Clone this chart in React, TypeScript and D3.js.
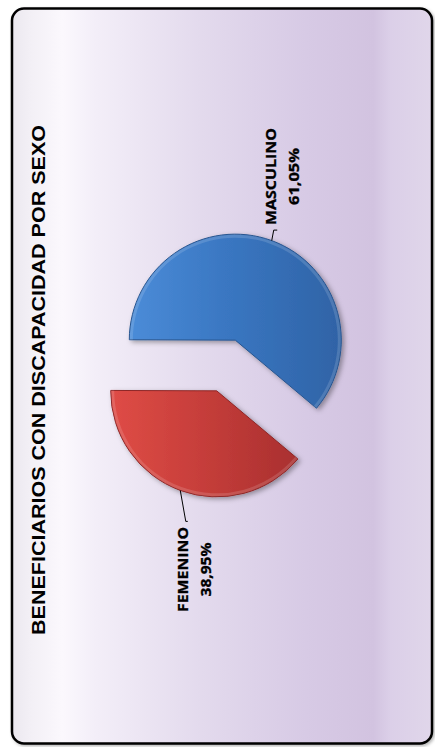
import React from "react";
import * as d3 from "d3";

const categories = ["FEMENINO", "MASCULINO"];
const values = [38.95, 61.05];
const valueLabels = ["38,95%", "61,05%"];
const title = "BENEFICIARIOS CON DISCAPACIDAD POR SEXO";

const sliceColors = [
  { light: "#df4c46", mid: "#c83f3b", dark: "#a92f2f", edge: "#8e2727" },
  { light: "#4b8cd8", mid: "#3a77c2", dark: "#2f63a6", edge: "#28558f" },
];

export default function App() {
  const W = 435;
  const H = 747;
  const deg = Math.PI / 180;
  const cx = 226;
  const cy = 365.5;
  const r = 106;
  const explode = 27;
  const start = 130 * deg;

  const pie = d3
    .pie<number>()
    .sort(null)
    .startAngle(start)
    .endAngle(start + 2 * Math.PI);
  const arcs = pie(values);
  const arc = d3.arc<d3.PieArcDatum<number>>().innerRadius(0).outerRadius(r);
  const rim = d3.arc<d3.PieArcDatum<number>>().innerRadius(r - 3.5).outerRadius(r - 0.5);

  const offsets = arcs.map((a) => {
    const m = (a.startAngle + a.endAngle) / 2;
    return [explode * Math.sin(m), -explode * Math.cos(m)];
  });

  // label layout (screen space, chart is rotated 90° ccw)
  const labelLayout = [
    // FEMENINO
    { elbow: [5.5, 31], end: [7.5, 31], nameX: 187.5, valX: 210.5, y: 569.5, nameLen: 85, valLen: 54 },
    // MASCULINO
    { elbow: [2, -10.5], end: [5.5, -10.5], nameX: 275.5, valX: 298.5, y: 176.5, nameLen: 97, valLen: 57 },
  ];

  const labelStyle = {
    fontFamily: "'Open Sans', Lato, sans-serif",
    fontWeight: 700 as const,
    fontSize: 14.5,
  };

  return (
    <svg
      width={W}
      height={H}
      style={{ position: "absolute", left: 0, top: 0 }}
      xmlns="http://www.w3.org/2000/svg"
    >
      <defs>
        <linearGradient id="bg" gradientUnits="userSpaceOnUse" x1={12} y1={0} x2={432} y2={0}>
          <stop offset="0" stopColor="#ebe8ef" />
          <stop offset="0.04" stopColor="#f2eff5" />
          <stop offset="0.12" stopColor="#fbf8fd" />
          <stop offset="0.2" stopColor="#f3eef8" />
          <stop offset="0.45" stopColor="#e3daed" />
          <stop offset="0.7" stopColor="#d7cae5" />
          <stop offset="0.86" stopColor="#d2c3e0" />
          <stop offset="0.9" stopColor="#dbcfe8" />
          <stop offset="1" stopColor="#e0d6ea" />
        </linearGradient>
        {sliceColors.map((c, i) => (
          <linearGradient key={i} id={`slice${i}`} gradientUnits="objectBoundingBox" x1="0" y1="0" x2="1" y2="0">
            <stop offset="0" stopColor={c.light} />
            <stop offset="0.45" stopColor={c.mid} />
            <stop offset="1" stopColor={c.dark} />
          </linearGradient>
        ))}
        <filter id="shadow" x="-20%" y="-20%" width="140%" height="140%">
          <feDropShadow dx="2.5" dy="2" stdDeviation="2.5" floodColor="#000" floodOpacity="0.35" />
        </filter>
        <filter id="frameShadow" x="-5%" y="-5%" width="110%" height="110%">
          <feDropShadow dx="1.5" dy="1.5" stdDeviation="1.5" floodColor="#000" floodOpacity="0.3" />
        </filter>
      </defs>

      <rect x={0} y={0} width={W} height={H} fill="#ffffff" />
      <rect
        x={12}
        y={8.5}
        width={420}
        height={735}
        rx={12}
        ry={12}
        fill="url(#bg)"
        stroke="#000"
        strokeWidth={2.5}
        filter="url(#frameShadow)"
      />

      <text
        transform={`translate(45,380) rotate(-90)`}
        textAnchor="middle"
        fontFamily="'Liberation Sans', Arial, sans-serif"
        fontWeight="bold"
        fontSize={18}
        textLength={510}
        lengthAdjust="spacingAndGlyphs"
        fill="#000"
      >
        {title}
      </text>

      <g transform={`translate(${cx},${cy})`}>
        {arcs.map((a, i) => (
          <g key={categories[i]} transform={`translate(${offsets[i][0]},${offsets[i][1]})`}>
            <path d={arc(a) || ""} fill={`url(#slice${i})`} stroke={sliceColors[i].edge} strokeWidth={1} filter="url(#shadow)" />
            <path d={rim(a) || ""} fill="#ffffff" opacity={0.14} />
          </g>
        ))}
      </g>

      {arcs.map((a, i) => {
        const m = (a.startAngle + a.endAngle) / 2;
        const ex = cx + offsets[i][0] + r * Math.sin(m);
        const ey = cy + offsets[i][1] - r * Math.cos(m);
        const L = labelLayout[i];
        const pts: [number, number][] = [
          [ex, ey],
          [ex + L.elbow[0], ey + L.elbow[1]],
          [ex + L.end[0], ey + L.end[1]],
        ];
        return (
          <g key={`lbl${i}`}>
            <path d={d3.line()(pts) || ""} fill="none" stroke="#000" strokeWidth={1} />
            <text
              transform={`translate(${L.nameX},${L.y}) rotate(-90)`}
              textAnchor="middle"
              {...labelStyle}
              textLength={L.nameLen}
              lengthAdjust="spacingAndGlyphs"
              fill="#000"
              stroke="#000"
              strokeWidth={0.3}
            >
              {categories[i]}
            </text>
            <text
              transform={`translate(${L.valX},${L.y}) rotate(-90)`}
              textAnchor="middle"
              {...labelStyle}
              textLength={L.valLen}
              lengthAdjust="spacingAndGlyphs"
              fill="#000"
              stroke="#000"
              strokeWidth={0.3}
            >
              {valueLabels[i]}
            </text>
          </g>
        );
      })}
    </svg>
  );
}
